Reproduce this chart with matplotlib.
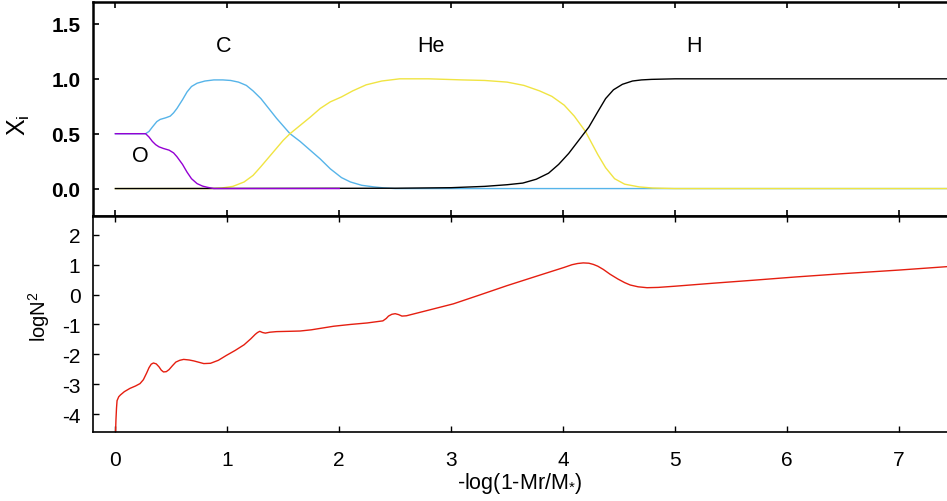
import matplotlib
matplotlib.use("Agg")
import matplotlib.pyplot as plt

plt.rcParams['font.family'] = ['Liberation Sans', 'DejaVu Sans']
plt.rcParams['mathtext.fontset'] = 'custom'
plt.rcParams['mathtext.rm'] = 'Liberation Sans'
plt.rcParams['axes.unicode_minus'] = False

# chemical profiles, abscissa = -log(1-Mr/M*)
x_O = [0.0, 0.27, 0.30, 0.33, 0.36, 0.39, 0.43, 0.48, 0.52, 0.55, 0.60, 0.64, 0.68,
       0.73, 0.78, 0.82, 0.88, 2.0]
X_O = [0.50, 0.50, 0.47, 0.43, 0.40, 0.38, 0.365, 0.35, 0.325, 0.29, 0.22, 0.15, 0.09,
       0.045, 0.022, 0.012, 0.0, 0.0]

x_C = [0.0, 0.27, 0.30, 0.33, 0.37, 0.40, 0.45, 0.49, 0.52, 0.55, 0.60, 0.64, 0.68,
       0.73, 0.80, 0.88, 0.96, 1.03, 1.10, 1.17, 1.23, 1.30, 1.37, 1.44, 1.50, 1.56,
       1.65, 1.74, 1.83, 1.92, 2.02, 2.10, 2.20, 2.31, 2.40, 2.50, 4.0, 7.45]
X_C = [0.50, 0.50, 0.52, 0.56, 0.61, 0.63, 0.645, 0.66, 0.69, 0.73, 0.81, 0.88, 0.93,
       0.96, 0.98, 0.99, 0.99, 0.985, 0.97, 0.94, 0.89, 0.82, 0.73, 0.64, 0.57, 0.50,
       0.43, 0.35, 0.27, 0.18, 0.10, 0.06, 0.03, 0.015, 0.006, 0.0, 0.0, 0.0]

x_He = [0.0, 0.85, 0.95, 1.05, 1.15, 1.23, 1.30, 1.40, 1.50, 1.56, 1.65, 1.74, 1.83,
        1.92, 2.02, 2.12, 2.24, 2.38, 2.54, 2.8, 3.1, 3.3, 3.5, 3.65, 3.79, 3.90, 4.01,
        4.10, 4.20, 4.31, 4.38, 4.46, 4.55, 4.68, 4.80, 5.0, 7.45]
X_He = [0.0, 0.0, 0.005, 0.02, 0.06, 0.12, 0.20, 0.32, 0.44, 0.50, 0.575, 0.65, 0.73,
        0.79, 0.835, 0.89, 0.945, 0.98, 1.0, 1.0, 0.99, 0.985, 0.97, 0.94, 0.89, 0.84,
        0.76, 0.66, 0.52, 0.31, 0.19, 0.09, 0.04, 0.015, 0.005, 0.0, 0.0]

x_H = [0.0, 2.5, 3.0, 3.3, 3.5, 3.64, 3.76, 3.87, 3.96, 4.05, 4.14, 4.23, 4.31, 4.38,
       4.45, 4.53, 4.62, 4.70, 4.79, 5.0, 7.45]
X_H = [0.0, 0.003, 0.008, 0.02, 0.035, 0.05, 0.085, 0.14, 0.22, 0.32, 0.44, 0.56, 0.70,
       0.82, 0.90, 0.95, 0.98, 0.99, 0.995, 1.0, 1.0]

# Brunt-Vaisala frequency
x_N = [0.0, 0.005, 0.01, 0.015, 0.03, 0.045, 0.08, 0.13, 0.18, 0.22, 0.25, 0.28, 0.30,
       0.32, 0.34, 0.365, 0.39, 0.41, 0.43, 0.455, 0.48, 0.51, 0.54, 0.575, 0.61, 0.66,
       0.70, 0.75, 0.79, 0.85, 0.92, 0.99, 1.07, 1.15, 1.21, 1.25, 1.27, 1.29, 1.315,
       1.34, 1.38, 1.44, 1.55, 1.65, 1.75, 1.85, 1.95, 2.1, 2.25, 2.39, 2.42, 2.44,
       2.47, 2.50, 2.53, 2.56, 2.6, 2.8, 3.02, 3.25, 3.5, 3.75, 4.01, 4.08, 4.13, 4.18,
       4.23, 4.27, 4.31, 4.36, 4.42, 4.49, 4.55, 4.60, 4.67, 4.75, 4.85, 5.0, 5.34,
       5.7, 6.08, 6.5, 7.0, 7.45]
logN2 = [-4.8, -4.2, -3.8, -3.55, -3.42, -3.36, -3.25, -3.14, -3.06, -2.98, -2.85,
         -2.62, -2.45, -2.33, -2.29, -2.32, -2.42, -2.53, -2.59, -2.58, -2.51, -2.38,
         -2.26, -2.2, -2.17, -2.19, -2.22, -2.27, -2.31, -2.30, -2.2, -2.04, -1.87,
         -1.68, -1.48, -1.33, -1.27, -1.23, -1.27, -1.29, -1.26, -1.24, -1.23, -1.22,
         -1.18, -1.12, -1.06, -1.0, -0.95, -0.88, -0.80, -0.72, -0.66, -0.64, -0.67,
         -0.72, -0.71, -0.52, -0.31, -0.02, 0.30, 0.60, 0.91, 1.0, 1.04, 1.06, 1.05,
         1.01, 0.95, 0.84, 0.68, 0.52, 0.40, 0.32, 0.26, 0.23, 0.24, 0.28, 0.38, 0.48,
         0.59, 0.70, 0.82, 0.94]

fig = plt.figure(figsize=(9.47, 5.02), dpi=100)
ax1 = fig.add_axes([93/947, 1 - 217/502, 854/947, 214/502])
ax2 = fig.add_axes([93/947, 1 - 433/502, 854/947, 216/502], sharex=ax1)

lw = 1.0
ax1.plot(x_C, X_C, color='#56B4E9', lw=lw, zorder=1)
ax1.plot(x_He, X_He, color='#F0E442', lw=lw, zorder=2)
ax1.plot(x_H, X_H, color='black', lw=lw, zorder=3)
ax1.plot(x_O, X_O, color='#9400D3', lw=lw, zorder=4)

for name, xt, yt in [('C', 0.97, 1.3), ('He', 2.82, 1.3), ('H', 5.17, 1.3), ('O', 0.22, 0.3)]:
    ax1.text(xt, yt, name, fontsize=15.5, ha='center', va='center')

ax1.set_xlim(-0.2, 7.43)
ax1.set_ylim(-0.25, 1.7)
ax1.set_yticks([0.0, 0.5, 1.0, 1.5])
ax1.set_yticklabels(['0.0', '0.5', '1.0', '1.5'], fontweight='bold')
ax1.set_ylabel(r'X$_\mathregular{i}$', fontsize=18)
ax1.yaxis.set_label_coords(-0.071, 0.43)
ax1.tick_params(axis='x', which='both', direction='in', top=True, bottom=True,
                labelbottom=False, length=4, width=1.2)
ax1.tick_params(axis='y', direction='in', length=4, width=1.2, labelsize=15, pad=9)
for side in ['left', 'top', 'bottom']:
    ax1.spines[side].set_linewidth(1.8)
ax1.spines['right'].set_visible(False)

ax2.plot(x_N, logN2, color='#E51E10', lw=lw)
ax2.set_ylim(-4.6, 2.63)
ax2.set_yticks([-4, -3, -2, -1, 0, 1, 2])
ax2.set_xticks(range(0, 8))
ax2.set_ylabel(r'logN$^\mathregular{2}$', fontsize=14.5)
ax2.yaxis.set_label_coords(-0.048, 0.54)
ax2.set_xlabel(r'-log(1-Mr/M$_\mathregular{*}$)', fontsize=15.5, labelpad=1)
ax2.tick_params(axis='both', direction='in', length=4, width=1.0, labelsize=15)
ax2.tick_params(axis='y', pad=9)
ax2.tick_params(axis='x', top=True, pad=13)
for side in ['left', 'bottom']:
    ax2.spines[side].set_linewidth(1.2)
ax2.spines['top'].set_linewidth(1.8)
ax2.spines['right'].set_visible(False)

fig.savefig('out.png', dpi=100)
